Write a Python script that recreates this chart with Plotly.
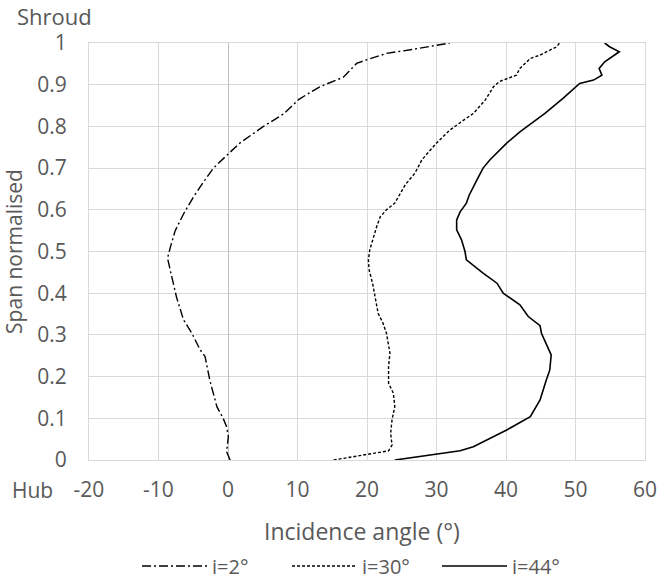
import plotly.graph_objects as go

# i = 2 deg (dash-dot)
x_i2 = [0.3, -0.2, 0.05, -0.2, -0.7, -1.6, -2.6, -3.3, -4.0, -5.2, -6.4, -7.4, -8.1, -8.7, -8.3,
        -7.6, -6.4, -5.0, -3.6, -2.1, 0.1, 1.7, 5.1, 8.0, 10.2, 13.2, 16.6, 17.6, 18.5, 20.0,
        22.8, 26.7, 30.0, 31.9]
y_i2 = [0.0, 0.02, 0.056, 0.08, 0.1, 0.128, 0.19, 0.248, 0.264, 0.304, 0.336, 0.39, 0.44, 0.484, 0.51,
        0.55, 0.59, 0.63, 0.665, 0.70, 0.735, 0.76, 0.80, 0.83, 0.865, 0.895, 0.918, 0.935, 0.951, 0.96,
        0.975, 0.985, 0.994, 1.0]

# i = 30 deg (dashed)
x_i30 = [15.2, 19.9, 23.1, 23.6, 23.4, 23.6, 24.0, 23.8, 23.1, 23.1, 23.3, 22.8, 22.3, 21.6, 21.2,
         20.8, 20.3, 20.2, 20.4, 20.8, 21.4, 21.9, 22.8, 24.0, 24.5, 25.5, 26.9, 27.9, 30.0, 31.9,
         33.9, 35.3, 37.0, 38.2, 39.1, 41.5, 42.0, 43.5, 44.9, 47.3, 47.7]
y_i30 = [0.0, 0.014, 0.022, 0.036, 0.064, 0.096, 0.128, 0.16, 0.184, 0.224, 0.256, 0.304, 0.328, 0.352, 0.392,
         0.424, 0.456, 0.48, 0.504, 0.528, 0.56, 0.583, 0.60, 0.616, 0.631, 0.66, 0.688, 0.72, 0.76, 0.791,
         0.815, 0.831, 0.863, 0.895, 0.908, 0.923, 0.939, 0.963, 0.971, 0.991, 1.0]

# i = 44 deg (solid)
x_i44 = [24.0, 30.0, 33.4, 35.3, 40.1, 43.5, 44.9, 45.8, 46.3, 46.5, 45.8, 45.1, 44.9, 43.2, 42.0,
         39.6, 38.7, 36.7, 34.3, 34.1, 33.6, 32.9, 32.9, 33.4, 34.3, 34.7, 35.8, 36.7, 37.7, 40.1,
         42.0, 45.6, 48.2, 50.6, 52.6, 53.8, 53.4, 54.2, 56.3, 54.9, 54.2]
y_i44 = [0.0, 0.014, 0.022, 0.032, 0.072, 0.104, 0.144, 0.192, 0.216, 0.252, 0.28, 0.304, 0.322, 0.344, 0.372,
         0.40, 0.424, 0.448, 0.48, 0.50, 0.528, 0.552, 0.576, 0.595, 0.616, 0.635, 0.671, 0.70, 0.72, 0.76,
         0.787, 0.831, 0.867, 0.903, 0.911, 0.923, 0.939, 0.955, 0.979, 0.991, 1.0]

x_ticks = [-20, -10, 0, 10, 20, 30, 40, 50, 60]
y_ticks = [0, 0.1, 0.2, 0.3, 0.4, 0.5, 0.6, 0.7, 0.8, 0.9, 1]

FONT = "Open Sans"
GREY = "#595959"

fig = go.Figure()
fig.add_trace(go.Scatter(x=x_i2, y=y_i2, mode="lines", name="i=2°",
                         line=dict(color="black", width=1.4, dash="9px,3px,2px,3px")))
fig.add_trace(go.Scatter(x=x_i30, y=y_i30, mode="lines", name="i=30°",
                         line=dict(color="black", width=1.4, dash="3px,2px")))
fig.add_trace(go.Scatter(x=x_i44, y=y_i44, mode="lines", name="i=44°",
                         line=dict(color="black", width=1.6)))

W, H = 657, 582
L, R, T, B = 89, 12, 43, 122
PW, PH = W - L - R, H - T - B

fig.update_layout(
    width=W, height=H,
    margin=dict(l=L, r=R, t=T, b=B, autoexpand=False),
    paper_bgcolor="white", plot_bgcolor="white",
    font=dict(family=FONT, size=21, color=GREY),
    showlegend=True,
    legend=dict(orientation="h", x=(362 - L) / PW, xanchor="center",
                yref="paper", y=-(566 - (H - B)) / PH, yanchor="middle",
                font=dict(size=20, color=GREY), itemwidth=65, entrywidth=70,
                entrywidthmode="pixels", tracegroupgap=0,
                bgcolor="rgba(0,0,0,0)"),
    xaxis=dict(range=[-20, 60], tickvals=x_ticks, ticktext=[str(v) for v in x_ticks],
               showgrid=True, gridcolor="#d9d9d9", gridwidth=1,
               zeroline=True, zerolinecolor="#bfbfbf", zerolinewidth=1.3,
               showline=True, linecolor="#d9d9d9", linewidth=1, mirror=True,
               ticks="", ticklabelstandoff=11, automargin=False, ticklabeloverflow="allow",
               tickfont=dict(size=21, color=GREY)),
    yaxis=dict(range=[0, 1], tickvals=y_ticks, ticktext=[f"{v:g}" for v in y_ticks],
               showgrid=True, gridcolor="#d9d9d9", gridwidth=1,
               zeroline=False, showline=True, linecolor="#d9d9d9", mirror=True,
               ticks="", ticklabelstandoff=17, automargin=False, ticklabeloverflow="allow",
               tickfont=dict(size=21, color=GREY),
               title=dict(text="Span normalised", font=dict(size=21, color=GREY), standoff=8)),
)

# x-axis title
fig.add_annotation(text="Incidence angle (°)", xref="paper", yref="paper", x=(362 - L) / PW,
                   y=-(531 - (H - B)) / PH, xanchor="center", yanchor="middle",
                   showarrow=False, font=dict(size=23, color=GREY))
fig.add_annotation(text="Shroud", xref="paper", yref="paper", x=(15 - L) / PW,
                   y=1 + (T - 16) / PH, xanchor="left", yanchor="middle",
                   showarrow=False, font=dict(size=22, color=GREY))
fig.add_annotation(text="Hub", xref="paper", yref="paper", x=(10 - L) / PW,
                   y=-(490 - (H - B)) / PH, xanchor="left", yanchor="middle",
                   showarrow=False, font=dict(size=21, color=GREY))

fig.write_html("out.html")
